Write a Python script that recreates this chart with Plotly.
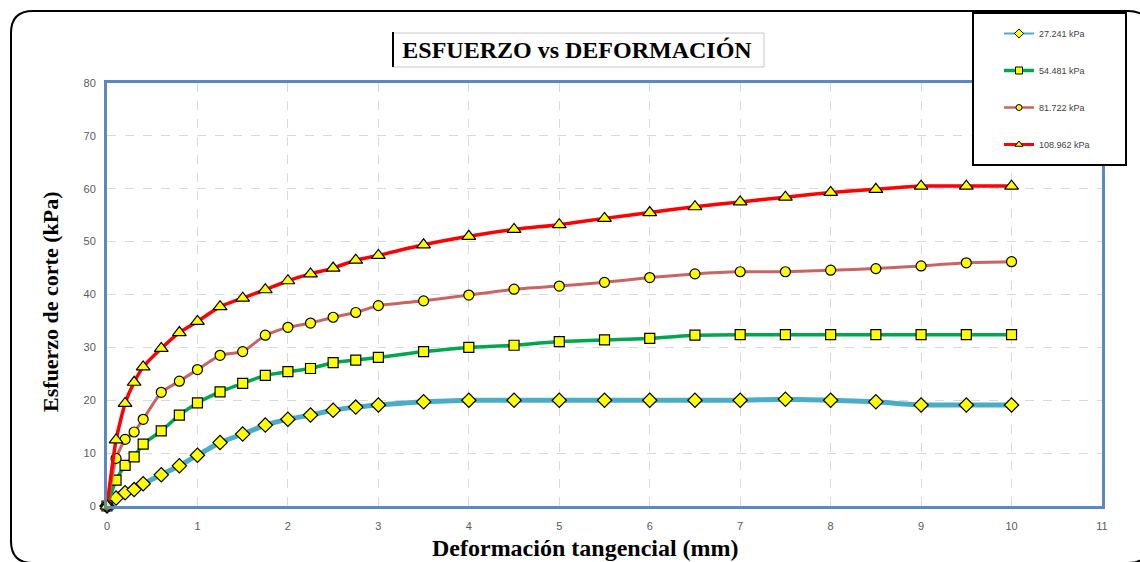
import plotly.graph_objects as go

# ---- data ----
deformacion = [0, 0.1, 0.2, 0.3, 0.4, 0.6, 0.8, 1.0, 1.25, 1.5, 1.75, 2.0, 2.25, 2.5, 2.75,
               3.0, 3.5, 4.0, 4.5, 5.0, 5.5, 6.0, 6.5, 7.0, 7.5, 8.0, 8.5, 9.0, 9.5, 10.0]
esf_27 = [0, 1.5, 2.5, 3.1, 4.2, 5.9, 7.6, 9.6, 12.0, 13.6, 15.3, 16.4, 17.2, 18.1, 18.7,
          19.1, 19.7, 20.0, 20.0, 20.0, 20.0, 20.0, 20.0, 20.0, 20.2, 20.0, 19.7, 19.1, 19.1, 19.1]
esf_54 = [0, 4.9, 7.7, 9.3, 11.7, 14.2, 17.2, 19.5, 21.6, 23.2, 24.7, 25.4, 26.0, 27.1, 27.6,
          28.1, 29.2, 30.0, 30.4, 31.1, 31.4, 31.7, 32.3, 32.4, 32.4, 32.4, 32.4, 32.4, 32.4, 32.4]
esf_81 = [0, 9.0, 12.6, 14.0, 16.4, 21.5, 23.6, 25.8, 28.5, 29.2, 32.3, 33.8, 34.6, 35.7, 36.6,
          37.9, 38.8, 39.9, 41.0, 41.6, 42.3, 43.2, 43.9, 44.3, 44.3, 44.6, 44.9, 45.4, 46.0, 46.2]
esf_108 = [0, 12.5, 19.4, 23.4, 26.3, 29.8, 32.8, 34.9, 37.7, 39.3, 40.9, 42.6, 43.9, 45.0, 46.5,
           47.4, 49.4, 51.0, 52.3, 53.2, 54.4, 55.5, 56.6, 57.5, 58.4, 59.3, 59.9, 60.5, 60.5, 60.5]
series_names = ["27.241 kPa", "54.481 kPa", "81.722 kPa", "108.962 kPa"]

# ---- layout geometry (pixels) ----
FW, FH = 1140, 562
L, R, T, B = 107, 1102, 83, 506
W, H = R - L, B - T


def px(X):
    return (X - L) / W


def py(Y):
    return (B - Y) / H


styles = [
    dict(color="#4BACC6", width=5, symbol="diamond", size=11, lsize=7, lw=2),
    dict(color="#00A550", width=3.5, symbol="square", size=10, lsize=7, lw=3.5),
    dict(color="#C86464", width=3, symbol="circle", size=10, lsize=6, lw=2.5),
    dict(color="#FF0000", width=3.5, symbol="triangle-up", size=12, lsize=7, lw=3),
]
values = [esf_27, esf_54, esf_81, esf_108]

fig = go.Figure()
for i, (name, ys, st) in enumerate(zip(series_names, values, styles)):
    fig.add_trace(go.Scatter(
        x=deformacion, y=ys, name=name, mode="lines+markers",
        legendgroup=f"g{i}", showlegend=False,
        line=dict(color=st["color"], width=st["width"], shape="spline", smoothing=0.5),
        marker=dict(symbol=st["symbol"], size=st["size"], color="#FFFF00",
                    line=dict(color="#000000", width=1.2)),
        cliponaxis=False,
    ))
# legend entries (smaller symbols, like the reference legend)
for i, (name, st) in enumerate(zip(series_names, styles)):
    fig.add_trace(go.Scatter(
        x=[None], y=[None], name=name, mode="lines+markers",
        legendgroup=f"g{i}", showlegend=True,
        line=dict(color=st["color"], width=st["lw"]),
        marker=dict(symbol=st["symbol"], size=st["lsize"], color="#FFFF00",
                    line=dict(color="#000000", width=1)),
    ))

tickfont = dict(family="Liberation Sans Narrow, Liberation Sans, Arial", size=11, color="#595959")
axis_blue = "#5B87C5"
serif = "Liberation Serif, Times New Roman, serif"

fig.update_xaxes(
    range=[0, 11], dtick=1, tick0=0, showgrid=True, gridcolor="#D9D9D9", griddash="dash",
    gridwidth=1, zeroline=False, showline=True, linecolor=axis_blue, linewidth=3, mirror=True,
    ticks="", tickfont=tickfont, ticklabelstandoff=8,
)
fig.update_yaxes(
    range=[0, 80], dtick=10, tick0=0, showgrid=True, gridcolor="#D9D9D9", griddash="dash",
    gridwidth=1, zeroline=False, showline=True, linecolor=axis_blue, linewidth=3, mirror=True,
    ticks="", tickfont=tickfont, ticklabelstandoff=6,
)

# outer rounded frame
fl, ft, fr, fb, rad = 11, 11, 1150, 563, 22
frame_path = (
    f"M {px(fl + rad)},{py(ft)} L {px(fr - rad)},{py(ft)} "
    f"Q {px(fr)},{py(ft)} {px(fr)},{py(ft + rad)} "
    f"L {px(fr)},{py(fb - rad)} Q {px(fr)},{py(fb)} {px(fr - rad)},{py(fb)} "
    f"L {px(fl + rad)},{py(fb)} Q {px(fl)},{py(fb)} {px(fl)},{py(fb - rad)} "
    f"L {px(fl)},{py(ft + rad)} Q {px(fl)},{py(ft)} {px(fl + rad)},{py(ft)} Z"
)

shapes = [
    dict(type="path", xref="paper", yref="paper", path=frame_path,
         line=dict(color="#000000", width=2), layer="below"),
    # title box
    dict(type="rect", xref="paper", yref="paper", x0=px(393), x1=px(764), y0=py(67), y1=py(33),
         line=dict(color="#C8C8C8", width=1), fillcolor="#FFFFFF", layer="below"),
    dict(type="line", xref="paper", yref="paper", x0=px(393), x1=px(393), y0=py(67), y1=py(32),
         line=dict(color="#000000", width=2)),
    # legend box (drawn over the plot frame)
    dict(type="rect", xref="paper", yref="paper", x0=px(973), x1=px(1126), y0=py(165), y1=py(13),
         line=dict(color="#000000", width=2), fillcolor="#FFFFFF", layer="above"),
]

annotations = [
    dict(text="<b>Deformación tangencial (mm)</b>", xref="paper", yref="paper",
         x=px(585), y=py(548), xanchor="center", yanchor="middle", showarrow=False,
         font=dict(family=serif, size=24, color="#000000")),
    dict(text="<b>Esfuerzo de corte (kPa)</b>", xref="paper", yref="paper",
         x=px(50), y=py(302), xanchor="center", yanchor="middle", showarrow=False, textangle=-90,
         font=dict(family=serif, size=22, color="#000000")),
]

fig.update_layout(
    width=FW, height=FH,
    margin=dict(l=L, r=FW - R, t=T, b=FH - B, autoexpand=False),
    paper_bgcolor="#FFFFFF", plot_bgcolor="#FFFFFF",
    title=dict(text="<b>ESFUERZO vs DEFORMACIÓN</b>", xref="container", yref="container",
               x=577 / FW, y=1 - 50 / FH, xanchor="center", yanchor="middle",
               font=dict(family=serif, size=24, color="#000000")),
    showlegend=True,
    legend=dict(x=px(999), y=py(19), xanchor="left", yanchor="top", bgcolor="rgba(0,0,0,0)",
                borderwidth=0, tracegroupgap=18, itemsizing="trace",
                font=dict(family="Liberation Sans Narrow, Liberation Sans, Arial", size=9, color="#404040")),
    shapes=shapes,
    annotations=annotations,
)

fig.write_html("out.html", config={"displayModeBar": False},
               post_script="document.body.style.margin='0px';")
